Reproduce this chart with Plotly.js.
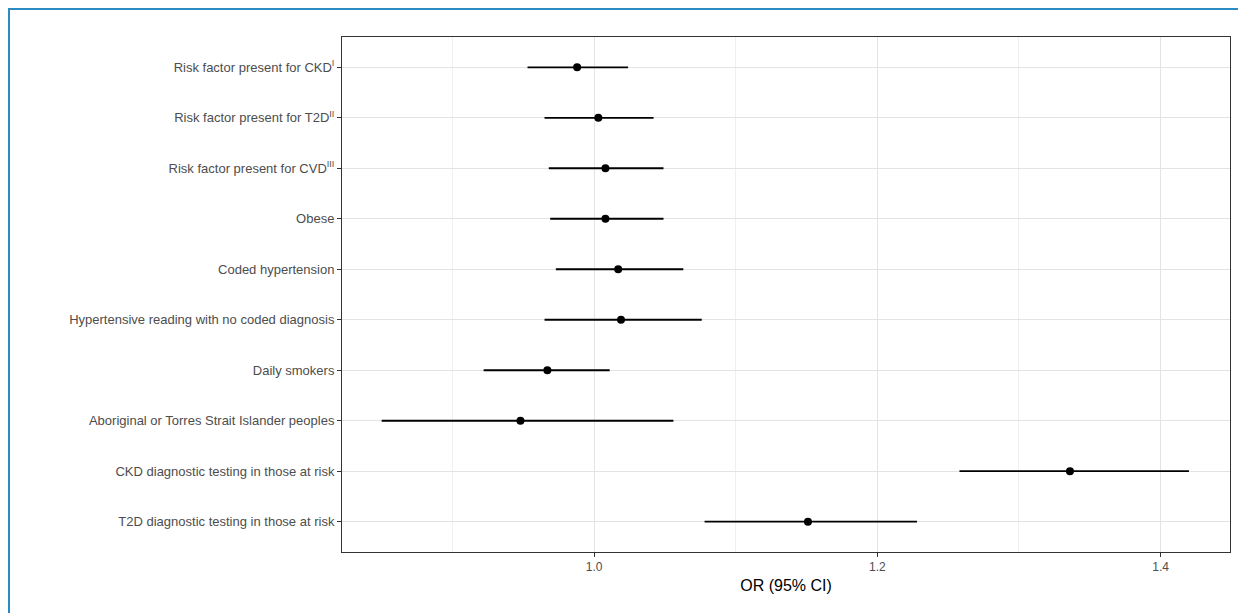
<!DOCTYPE html>
<html>
<head>
<meta charset="utf-8">
<script src="https://cdn.plot.ly/plotly-3.0.1.min.js"></script>
<style>
  body { margin: 0; background: #fff; }
  #frame { position: absolute; left: 8px; top: 8px; width: 1240px; height: 640px; border: 2px solid #2b8bc4; box-sizing: border-box; }
  #chart { position: absolute; left: 0; top: 0; width: 1238px; height: 613px; }
</style>
</head>
<body>
<div id="frame"></div>
<div id="chart"></div>
<script>
const labels = [
    "Risk factor present for CKD<sup>I</sup>",
    "Risk factor present for T2D<sup>II</sup>",
    "Risk factor present for CVD<sup>III</sup>",
    "Obese",
    "Coded hypertension",
    "Hypertensive reading with no coded diagnosis",
    "Daily smokers",
    "Aboriginal or Torres Strait Islander peoples",
    "CKD diagnostic testing in those at risk",
    "T2D diagnostic testing in those at risk",
];
const oddsRatio = [0.988, 1.003, 1.008, 1.008, 1.017, 1.019, 0.967, 0.948, 1.336, 1.151];
const ciLow = [0.953, 0.965, 0.968, 0.969, 0.973, 0.965, 0.922, 0.850, 1.258, 1.078];
const ciHigh = [1.024, 1.042, 1.049, 1.049, 1.063, 1.076, 1.011, 1.056, 1.420, 1.228];

const trace = {
    type: "scatter",
    mode: "markers",
    x: oddsRatio,
    y: labels,
    marker: { color: "#000", size: 8 },
    error_x: {
        type: "data",
        symmetric: false,
        array: oddsRatio.map((v, i) => ciHigh[i] - v),
        arrayminus: oddsRatio.map((v, i) => v - ciLow[i]),
        color: "#000",
        thickness: 1.8,
        width: 0,
    },
    hoverinfo: "x+y",
};

Plotly.newPlot("chart", [trace], {
    width: 1238,
    height: 613,
    margin: { t: 37, r: 8, b: 61, l: 342 },
    paper_bgcolor: "rgba(0,0,0,0)",
    plot_bgcolor: "#fff",
    showlegend: false,
    font: { family: "Liberation Sans, Arial, sans-serif", color: "#333", size: 13 },
    xaxis: {
        range: [0.822, 1.449],
        tickvals: [1.0, 1.2, 1.4],
        ticktext: ["1.0", "1.2", "1.4"],
        minor: { tickvals: [0.9, 1.1, 1.3], showgrid: true, gridcolor: "#f0f0f0", gridwidth: 1 },
        gridcolor: "#e3e3e3",
        gridwidth: 1.4,
        zeroline: false,
        showline: true, mirror: true, linecolor: "#333", linewidth: 1,
        ticks: "outside", ticklen: 4, tickcolor: "#333",
        tickfont: { size: 12, color: "#4d4d4d" },
        title: { text: "OR (95% CI)", font: { size: 16, color: "#000" }, standoff: 6 },
    },
    yaxis: {
        autorange: false,
        gridcolor: "#e3e3e3",
        gridwidth: 1.4,
        showline: true, mirror: true, linecolor: "#333", linewidth: 1,
        ticks: "outside", ticklen: 4, tickcolor: "#333",
        tickfont: { size: 13, color: "#4d4d4d" },
        range: [9.6, -0.6],
    },
}, { displayModeBar: false });
</script>
</body>
</html>
